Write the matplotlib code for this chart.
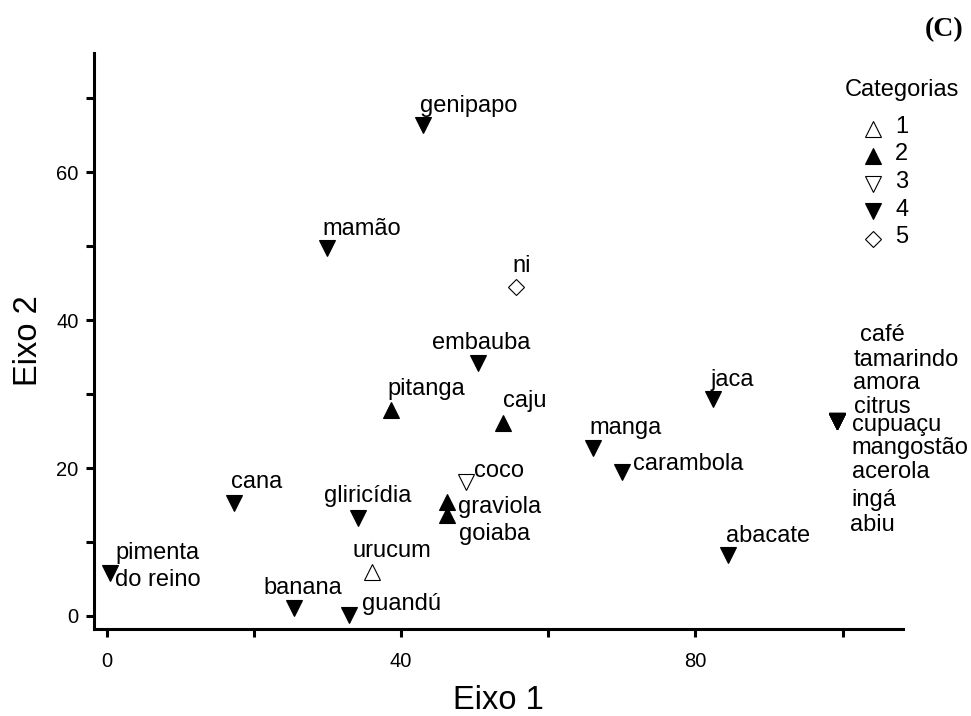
import matplotlib
matplotlib.use("Agg")
import matplotlib.pyplot as plt

# species scores on the first two axes, category of each species
names = ["pimenta\ndo reino", "cana", "banana", "guandú", "urucum", "gliricídia",
         "pitanga", "graviola", "goiaba", "coco", "caju", "manga", "carambola",
         "jaca", "abacate", "genipapo", "mamão", "ni", "embauba",
         "café", "tamarindo", "amora", "citrus", "cupuaçu", "mangostão",
         "acerola", "ingá", "abiu"]
eixo1 = [0.5, 17.3, 25.5, 32.9, 36.0, 34.2,
         38.6, 46.3, 46.3, 48.9, 53.8, 66.1, 70.0,
         82.4, 84.4, 43.0, 29.9, 55.6, 50.5,
         99.2, 99.2, 99.2, 99.2, 99.2, 99.2, 99.2, 99.2, 99.2]
eixo2 = [5.8, 15.3, 1.1, 0.1, 5.9, 13.2,
         27.8, 15.4, 13.6, 18.1, 26.1, 22.7, 19.5,
         29.3, 8.2, 66.4, 49.7, 44.5, 34.2,
         26.3, 26.3, 26.3, 26.3, 26.3, 26.3, 26.3, 26.3, 26.3]
categoria = [4, 4, 4, 4, 1, 4,
             2, 2, 2, 3, 2, 4, 4,
             4, 4, 4, 4, 5, 4,
             4, 4, 4, 4, 4, 4, 4, 4, 4]

cat_labels = ["1", "2", "3", "4", "5"]

# label placement: pixel offset of the text (left, baseline) from the marker
label_offsets = [(5, -14), (-3, -15), (-31, -14), (13, -5), (-19, -15), (-34, -16),
                 (-3, -15), (11, 11), (12, 25), (8, -5), (0, -16), (-4, -14), (11, -2),
                 (-3, -13), (-2, -13), (-3, -13), (-4, -13), (-3, -15), (-46, -14),
                 (23, -80), (17, -55), (16, -32), (17, -8), (15, 10), (15, 33),
                 (15, 57), (15, 85), (13, 110)]

# marker style per category: (marker, face colour)
styles = {1: ("^", "white"), 2: ("^", "black"), 3: ("v", "white"),
          4: ("v", "black"), 5: ("D", "white")}
sizes = {1: 12, 2: 12, 3: 12, 4: 12, 5: 8.6}

W, H, DPI = 971, 716, 100
PX = 72.0 / DPI
FONT = "Liberation Sans"

plt.rcParams["font.family"] = [FONT, "DejaVu Sans"]

fig = plt.figure(figsize=(W / DPI, H / DPI), dpi=DPI)
ax = fig.add_axes([93.7 / W, (H - 628.7) / H, (903 - 93.7) / W, (628.7 - 53) / H])

for c in sorted(styles):
    xs = [x for x, k in zip(eixo1, categoria) if k == c]
    ys = [y for y, k in zip(eixo2, categoria) if k == c]
    m, fc = styles[c]
    ax.plot(xs, ys, linestyle="none", marker=m, markersize=sizes[c],
            markerfacecolor=fc, markeredgecolor="black", markeredgewidth=0.8,
            clip_on=False, zorder=3)

for name, x, y, (dx, dy) in zip(names, eixo1, eixo2, label_offsets):
    if "\n" in name:
        for i, line in enumerate(name.split("\n")):
            ax.annotate(line, (x, y), xytext=(dx * PX, -(dy + 27 * i) * PX),
                        textcoords="offset points", ha="left", va="baseline",
                        fontsize=17, color="black")
    else:
        ax.annotate(name, (x, y), xytext=(dx * PX, -dy * PX),
                    textcoords="offset points", ha="left", va="baseline",
                    fontsize=17, color="black")

ax.set_xlim(-1.74, 108.2)
ax.set_ylim(-1.72, 76.1)
ax.set_xticks([0, 20, 40, 60, 80, 100])
ax.set_xticklabels(["0", "", "40", "", "80", ""])
ax.set_yticks([0, 10, 20, 30, 40, 50, 60, 70])
ax.set_yticklabels(["0", "", "20", "", "40", "", "60", ""])
ax.tick_params(axis="both", direction="out", length=5.5, width=2.2, labelsize=14.5)
ax.tick_params(axis="x", pad=11)
ax.tick_params(axis="y", pad=5.5)

for s in ["top", "right"]:
    ax.spines[s].set_visible(False)
for s in ["left", "bottom"]:
    ax.spines[s].set_linewidth(2.2)

ax.set_xlabel("Eixo 1", fontsize=23.5, labelpad=10)
ax.set_ylabel("Eixo 2", fontsize=23.5, labelpad=9)

# legend drawn by hand so it sits like in the original figure
fig.text(902 / W, 1 - 96 / H, "Categorias", ha="center", va="baseline", fontsize=17)
for i, c in enumerate(sorted(styles)):
    base = 133 + 27.5 * i
    m, fc = styles[c]
    ax.plot([873 / W], [1 - (base - 4.5) / H], linestyle="none", marker=m,
            markersize=sizes[c], markerfacecolor=fc, markeredgecolor="black",
            markeredgewidth=0.8, transform=fig.transFigure, clip_on=False)
    fig.text(895 / W, 1 - base / H, cat_labels[i], ha="left", va="baseline", fontsize=17)

fig.text(944 / W, 1 - 30 / H, "(C)", ha="center", va="center", fontsize=20,
         fontweight="bold", family=["Liberation Serif", "DejaVu Serif"])

fig.savefig("out.png", dpi=DPI)
